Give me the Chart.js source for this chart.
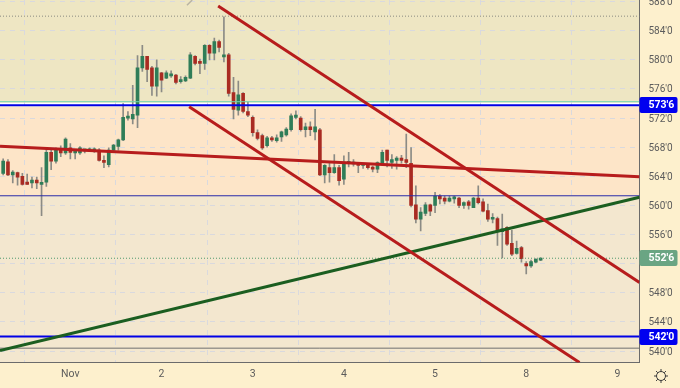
<!DOCTYPE html>
<html>
<head>
<meta charset="utf-8">
<style>
  html, body { margin: 0; padding: 0; background: #fdf0cd; }
  canvas { display: block; filter: blur(0.35px); }
</style>
<script src="https://cdn.jsdelivr.net/npm/chart.js@4"></script>
</head>
<body>
<canvas id="chart" width="680" height="388"></canvas>
<script>
// candles (price in cents, one row of ten per line)
const opens = [
  564.4,566.0,564.2,564.5,564.0,563.2,563.1,563.5,562.9,563.2,
  567.3,566.1,567.7,567.2,567.9,567.2,567.2,567.5,567.5,567.5,
  567.6,566.2,565.6,567.6,568.1,569.0,572.0,571.9,572.4,578.9,
  580.5,578.9,576.4,578.2,577.5,577.8,577.9,577.0,577.1,577.5,
  580.5,579.8,579.5,582.0,580.9,582.5,580.4,580.7,575.5,573.1,
  575.4,572.9,572.1,570.0,569.6,568.2,569.3,568.9,569.4,569.7,
  570.4,572.1,572.0,570.4,570.8,570.1,570.4,564.2,565.2,564.5,
  565.2,563.6,565.8,565.7,565.8,565.5,565.5,565.2,565.0,565.7,
  567.6,565.9,566.2,566.5,566.3,565.8,560.1,558.1,558.9,560.1,
  560.0,561.3,561.0,560.6,560.9,561.0,560.0,560.5,559.7,561.0,
  560.5,559.3,558.1,558.2,556.4,557.0,554.8,553.4,554.2,552.0,
  551.7,552.2,552.5
];
const closes = [
  566.1,564.2,564.6,563.9,562.9,562.9,563.5,563.1,563.0,567.3,
  566.1,567.6,567.2,569.1,567.3,567.4,567.9,567.6,567.6,567.6,
  566.2,565.9,567.6,568.3,569.0,572.1,572.1,572.5,578.9,580.5,
  578.7,576.4,578.9,577.2,578.2,578.0,576.9,577.3,577.6,580.7,
  579.5,579.5,582.0,580.9,582.5,581.7,580.7,575.4,573.2,575.2,
  572.9,572.4,570.0,569.2,567.9,569.3,569.0,569.3,570.1,570.5,
  572.3,572.4,570.4,570.8,570.4,570.8,564.2,565.5,564.5,565.2,
  563.4,565.9,565.9,565.8,565.5,565.6,565.2,565.0,565.9,567.3,
  566.2,566.3,566.5,566.2,565.9,560.0,558.1,559.1,560.1,559.2,
  561.3,560.9,560.6,561.0,561.0,560.0,560.4,560.0,561.0,560.4,
  559.2,558.1,558.2,556.4,556.8,554.7,553.3,554.1,552.7,551.7,
  552.3,552.6,552.75
];
const highs = [
  566.4,566.3,564.8,564.6,564.4,564.3,563.9,563.9,565.2,567.9,
  567.6,567.9,568.2,569.3,568.5,567.6,568.1,567.7,567.9,567.9,
  567.8,566.8,567.9,568.4,569.1,574.0,572.9,576.5,580.6,582.0,
  580.5,579.1,580.0,578.3,578.5,578.5,578.0,577.7,577.8,581.0,
  580.6,580.1,582.1,582.1,583.0,582.7,585.9,580.9,577.6,577.1,
  575.5,574.2,572.3,570.4,569.8,569.5,569.5,569.7,570.2,570.7,
  572.6,573.0,572.2,571.3,571.5,573.2,570.6,565.6,565.8,567.0,
  565.5,566.8,567.3,566.3,565.8,565.8,565.7,565.4,566.0,567.6,
  567.6,567.0,566.7,566.9,569.8,567.95,562.7,559.7,560.4,560.2,
  561.8,561.5,561.3,561.3,561.3,561.1,560.5,560.7,561.1,562.7,
  560.9,560.2,558.9,558.4,558.8,557.1,556.6,555.1,554.4,552.3,
  552.5,552.7,552.8
];
const lows = [
  564.2,564.1,563.1,562.8,562.8,562.9,562.4,562.3,558.6,562.6,
  564.9,565.8,566.7,567.0,566.4,566.4,567.0,567.2,567.4,567.3,
  566.1,565.2,565.3,567.5,567.6,568.9,571.7,571.2,570.7,578.4,
  577.0,575.1,575.0,575.6,577.4,577.6,576.7,576.8,577.0,577.4,
  579.3,578.1,578.7,580.0,580.0,581.1,579.7,575.0,571.9,572.4,
  572.7,572.2,569.5,569.0,567.7,568.0,568.8,568.7,568.8,569.5,
  570.2,571.9,570.2,569.4,569.6,569.0,564.1,563.1,563.2,564.4,
  562.8,562.9,565.3,565.4,564.5,565.1,565.0,564.6,564.5,565.5,
  565.3,565.1,565.0,565.8,565.2,559.8,557.6,556.5,558.6,558.6,
  559.0,560.2,560.2,560.5,560.3,559.7,559.6,559.5,559.7,560.2,
  559.1,557.8,557.6,554.5,552.8,554.5,553.1,553.3,552.2,550.6,
  551.5,552.1,552.4
];

// time axis
const dayTicks = [14, 33, 52, 71, 90, 109, 128];
const dayLabels = ['Nov', '2', '3', '4', '5', '8', '9'];
// price axis
const priceTicks = [540, 544, 548, 552, 556, 560, 564, 568, 572, 576, 580, 584, 588];
const hiddenPriceLabel = 552; // sits behind the last price tag

// hand drawn lines: [bar, price] at both ends
const upperChannel = [[44.8, 587.39], [132.6, 549.43]];
const lowerChannel = [[38.76, 573.57], [120.09, 538.43]];
const flatLine = [[-0.66, 568.14], [132.6, 563.94]];
const greenLine = [[-0.66, 540.08], [132.6, 561.12]];
const smudge = [[38.3, 587.5], [39.4, 588.22]];

// horizontal levels
const blueLevels = [573.75, 542];
const thinBlueLevel = 561.33;
const greyLevel = 540.4;
const tealLevel = 574.25;
const dottedLevel = 586;
const lastPrice = 552.75;

// price zones: [from, to]
const topZone = [574.1, 588.22];
const midZone = [561.33, 573.6];
const lowZone = [538.43, 561.33];
const bandZone = [573.6, 574.1];

// tags on the price axis
const tagPrices = [573.75, 542, 552.75];
const tagLabels = ["573'6", "542'0", "552'6"];
const tagColors = ['#0000f0', '#0000f0', '#6aa583'];

const xMin = -0.66, xMax = 132.6;
const yMin = 538.43, yMax = 588.22;

const GREEN = '#2f7d58', RED = '#a92b22';
const candleColors = opens.map((o, i) => closes[i] >= o ? GREEN : RED);
const pts = a => a.map(p => ({ x: p[0], y: p[1] }));
const level = y => [{ x: xMin, y: y }, { x: xMax, y: y }];
const lineDs = (data, color, width, dash) => ({
  type: 'line', data: data, borderColor: color, borderWidth: width, borderDash: dash || [],
  pointRadius: 0, order: 0, borderCapStyle: 'butt'
});

// background zones, axis panel, price tags and the settings icon
const paintPlugin = {
  id: 'paint',
  beforeDraw(chart) {
    const c = chart.ctx, a = chart.chartArea, y = chart.scales.y;
    c.save();
    c.fillStyle = '#fdf0cd';
    c.fillRect(0, 0, chart.width, chart.height);
    const zone = (z, color) => {
      c.fillStyle = color;
      c.fillRect(a.left, y.getPixelForValue(z[1]), a.right - a.left, y.getPixelForValue(z[0]) - y.getPixelForValue(z[1]));
    };
    zone(topZone, '#eee6c3');
    zone(midZone, '#fde5c8');
    zone(lowZone, '#f3e7cf');
    zone(bandZone, '#ffffff');
    c.restore();
  },
  afterDraw(chart) {
    const c = chart.ctx, a = chart.chartArea, y = chart.scales.y;
    c.save();
    c.font = 'bold 10.5px Roboto';
    c.textBaseline = 'middle';
    c.textAlign = 'left';
    tagPrices.forEach((p, i) => {
      const py = y.getPixelForValue(p);
      c.fillStyle = tagColors[i];
      c.beginPath();
      c.roundRect(a.right, Math.round(py) - 8, 38, 16, 2);
      c.fill();
      c.fillStyle = '#ffffff';
      c.fillText(tagLabels[i], a.right + 9, py + 0.5);
    });
    const cx = 661, cy = 376;
    c.strokeStyle = '#3a3a3a';
    c.lineWidth = 1;
    c.beginPath();
    c.arc(cx, cy, 4.5, 0, Math.PI * 2);
    for (let k = 0; k < 8; k++) {
      const t = k * Math.PI / 4;
      c.moveTo(cx + Math.cos(t) * 4.5, cy + Math.sin(t) * 4.5);
      c.lineTo(cx + Math.cos(t) * 7, cy + Math.sin(t) * 7);
    }
    c.stroke();
    c.restore();
  }
};

new Chart(document.getElementById('chart'), {
  type: 'bar',
  plugins: [paintPlugin],
  data: {
    datasets: [
      lineDs(pts(upperChannel), '#b71c1c', 3),
      lineDs(pts(lowerChannel), '#b71c1c', 3),
      lineDs(pts(flatLine), '#b71c1c', 3),
      lineDs(pts(greenLine), '#1b5e20', 3),
      lineDs(pts(smudge), '#b9b4a4', 1.5),
      lineDs(level(blueLevels[0]), '#0000e6', 2),
      lineDs(level(blueLevels[1]), '#0000e6', 2),
      lineDs(level(thinBlueLevel), '#2a2aa8', 1),
      lineDs(level(greyLevel), '#6f6f6f', 1),
      lineDs(level(tealLevel), '#6fd3ae', 1),
      lineDs(level(dottedLevel), '#8a8a80', 1, [1, 2]),
      lineDs(level(lastPrice), '#4f9a6e', 1, [1, 2]),
      {
        // bodies
        data: opens.map((o, i) => ({ x: i, y: [o, closes[i]] })),
        backgroundColor: candleColors,
        barThickness: 3,
        minBarLength: 2,
        grouped: false,
        order: 1
      },
      {
        // wicks
        data: lows.map((l, i) => ({ x: i, y: [l, highs[i]] })),
        backgroundColor: '#8b8b85',
        barThickness: 1,
        grouped: false,
        order: 2
      }
    ]
  },
  options: {
    responsive: false,
    animation: false,
    layout: { padding: 0 },
    plugins: { legend: { display: false }, tooltip: { enabled: false } },
    scales: {
      x: {
        type: 'linear',
        offset: false,
        min: xMin,
        max: xMax,
        afterBuildTicks(s) { s.ticks = dayTicks.map(v => ({ value: v })); },
        afterFit(s) { s.height = 25.5; s.paddingLeft = 0; s.paddingRight = 0; },
        ticks: {
          autoSkip: false,
          maxRotation: 0,
          padding: 6,
          color: '#5c5c5c',
          font: { family: 'Roboto', size: 10.5 },
          callback: v => dayLabels[dayTicks.indexOf(v)]
        },
        grid: { color: '#d9d9de', tickLength: 0, lineWidth: 1 },
        border: { color: '#6b6b6b', dash: [5, 5], width: 1 }
      },
      y: {
        position: 'right',
        min: yMin,
        max: yMax,
        afterBuildTicks(s) { s.ticks = priceTicks.map(v => ({ value: v })); },
        afterFit(s) { s.width = 40.5; s.paddingTop = 0; s.paddingBottom = 0; },
        ticks: {
          autoSkip: false,
          crossAlign: 'near',
          padding: 9,
          color: '#5c5c5c',
          // two line label with a 2px line height: pushes the text 1px down
          font: { family: 'Roboto', size: 10, lineHeight: '2px' },
          callback: v => v === hiddenPriceLabel ? '' : ['', v + "'0"]
        },
        grid: { color: '#d9d9de', tickLength: 0, lineWidth: 1 },
        border: { color: '#6b6b6b', dash: [5, 5], width: 1 }
      }
    }
  }
});
</script>
</body>
</html>
